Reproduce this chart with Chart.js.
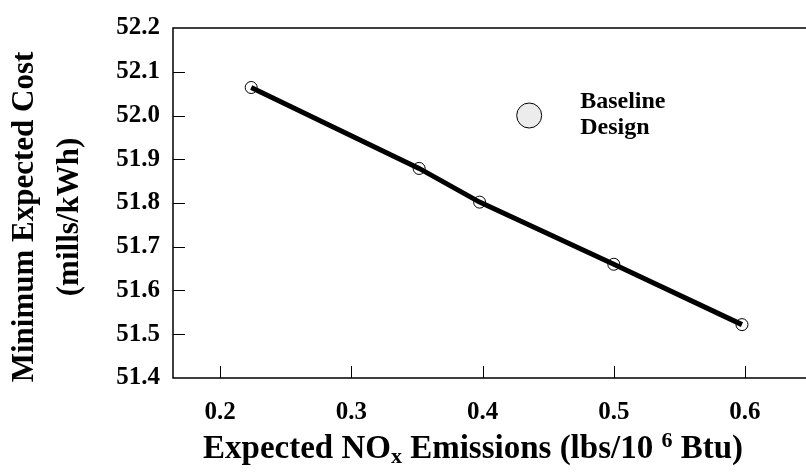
<!DOCTYPE html>
<html>
<head>
<meta charset="utf-8">
<script src="https://cdn.jsdelivr.net/npm/chart.js@4/dist/chart.umd.min.js"></script>
<style>
  html, body { margin: 0; padding: 0; background: #ffffff; overflow: hidden; }
  #wrap { width: 806px; height: 472px; position: relative; }
</style>
</head>
<body>
<div id="wrap"><canvas id="c" width="806" height="472"></canvas></div>
<script>
// ---- data ----
const noxEmissions = [0.2236, 0.3516, 0.3977, 0.5000, 0.5977];
const minExpectedCost = [52.064, 51.879, 51.802, 51.660, 51.522];
const xTickValues = [0.2, 0.3, 0.4, 0.5, 0.6];
const yTickValues = [51.4, 51.5, 51.6, 51.7, 51.8, 51.9, 52.0, 52.1, 52.2];
const yTitleLines = ['Minimum Expected Cost', '(mills/kWh)'];
const legendLines = ['Baseline', 'Design'];

const SERIF = '"Liberation Serif", "Times New Roman", serif';

const points = noxEmissions.map((x, i) => ({ x: x, y: minExpectedCost[i] }));

const framePlugin = {
  id: 'frameAndExtras',
  afterDraw(chart) {
    const ctx = chart.ctx;
    const xs = chart.scales.x, ys = chart.scales.y;
    const a = chart.chartArea;
    ctx.save();
    ctx.strokeStyle = '#000';
    ctx.lineWidth = 1.5;
    ctx.beginPath();
    ctx.moveTo(a.right + 2, a.top);
    ctx.lineTo(a.left, a.top);
    ctx.lineTo(a.left, a.bottom);
    ctx.lineTo(a.right + 2, a.bottom);
    ctx.stroke();
    // inward tick marks
    ctx.lineWidth = 1;
    ctx.beginPath();
    xTickValues.forEach(v => {
      const px = Math.round(xs.getPixelForValue(v)) + 0.5;
      ctx.moveTo(px, a.bottom);
      ctx.lineTo(px, a.bottom - 12);
    });
    yTickValues.forEach(v => {
      if (v === ys.min || v === ys.max) return;
      const py = Math.round(ys.getPixelForValue(v)) + 0.5;
      ctx.moveTo(a.left, py);
      ctx.lineTo(a.left + 12, py);
    });
    ctx.stroke();

    // legend marker & text
    const lx = xs.getPixelForValue(0.4355);
    const ly = ys.getPixelForValue(52.0);
    ctx.beginPath();
    ctx.arc(lx, ly, 12.5, 0, Math.PI * 2);
    ctx.fillStyle = '#ececec';
    ctx.fill();
    ctx.lineWidth = 1;
    ctx.strokeStyle = '#000';
    ctx.stroke();
    ctx.fillStyle = '#000';
    ctx.font = 'bold 24px ' + SERIF;
    ctx.textAlign = 'left';
    ctx.textBaseline = 'middle';
    ctx.fillText(legendLines[0], lx + 51, ly - 14);
    ctx.fillText(legendLines[1], lx + 51, ly + 12);

    // y axis title (two lines, rotated)
    ctx.save();
    ctx.translate(0, 217);
    ctx.rotate(-Math.PI / 2);
    ctx.font = 'bold 31px ' + SERIF;
    ctx.textAlign = 'center';
    ctx.textBaseline = 'middle';
    ctx.fillText(yTitleLines[0], 0, 25);
    ctx.fillText(yTitleLines[1], 0, 70);
    ctx.restore();

    // x axis title with subscript / superscript
    const parts = [
      { t: 'Expected NO', size: 33, dy: 0 },
      { t: 'x', size: 22, dy: 5 },
      { t: ' Emissions (lbs/10 ', size: 33, dy: 0 },
      { t: '6', size: 22, dy: -11 },
      { t: ' Btu)', size: 33, dy: 0 }
    ];
    let total = 0;
    parts.forEach(p => { ctx.font = 'bold ' + p.size + 'px ' + SERIF; p.w = ctx.measureText(p.t).width; total += p.w; });
    let cx = 473 - total / 2;
    const ty = 448;
    ctx.textAlign = 'left';
    ctx.textBaseline = 'alphabetic';
    parts.forEach(p => {
      ctx.font = 'bold ' + p.size + 'px ' + SERIF;
      ctx.fillText(p.t, cx, ty + 10 + p.dy);
      cx += p.w;
    });
    ctx.restore();
  }
};

new Chart(document.getElementById('c'), {
  type: 'scatter',
  data: {
    datasets: [{
      label: 'Minimum Expected Cost',
      data: points,
      showLine: true,
      borderColor: '#000',
      borderWidth: 5,
      pointRadius: 6,
      pointBorderWidth: 1,
      pointBorderColor: '#000',
      pointBackgroundColor: 'rgba(0,0,0,0)',
      pointStyle: 'circle',
      tension: 0
    }]
  },
  options: {
    responsive: false,
    animation: false,
    devicePixelRatio: 1,
    layout: { autoPadding: false, padding: { top: 24, right: 0, left: 0, bottom: 0 } },
    plugins: {
      legend: { display: false },
      tooltip: { enabled: false }
    },
    scales: {
      x: {
        type: 'linear',
        min: 0.164,
        max: 0.6465,
        grid: { display: false, drawTicks: false },
        border: { display: false },
        afterBuildTicks(scale) { scale.ticks = xTickValues.map(v => ({ value: v })); },
        afterFit(scale) { scale.height = 94; },
        ticks: {
          color: '#000',
          padding: 20,
          font: { family: SERIF, size: 25, weight: 'bold' },
          callback: v => v.toFixed(1),
          maxRotation: 0
        }
      },
      y: {
        type: 'linear',
        min: 51.4,
        max: 52.2,
        grid: { display: false, drawTicks: false },
        border: { display: false },
        afterBuildTicks(scale) { scale.ticks = yTickValues.map(v => ({ value: v })); },
        afterFit(scale) { scale.width = 173; },
        ticks: {
          color: '#000',
          padding: 13,
          font: { family: SERIF, size: 25, weight: 'bold' },
          callback: v => v.toFixed(1)
        },
        title: { display: false, text: yTitleLines }
      }
    }
  },
  plugins: [framePlugin]
});
</script>
</body>
</html>
